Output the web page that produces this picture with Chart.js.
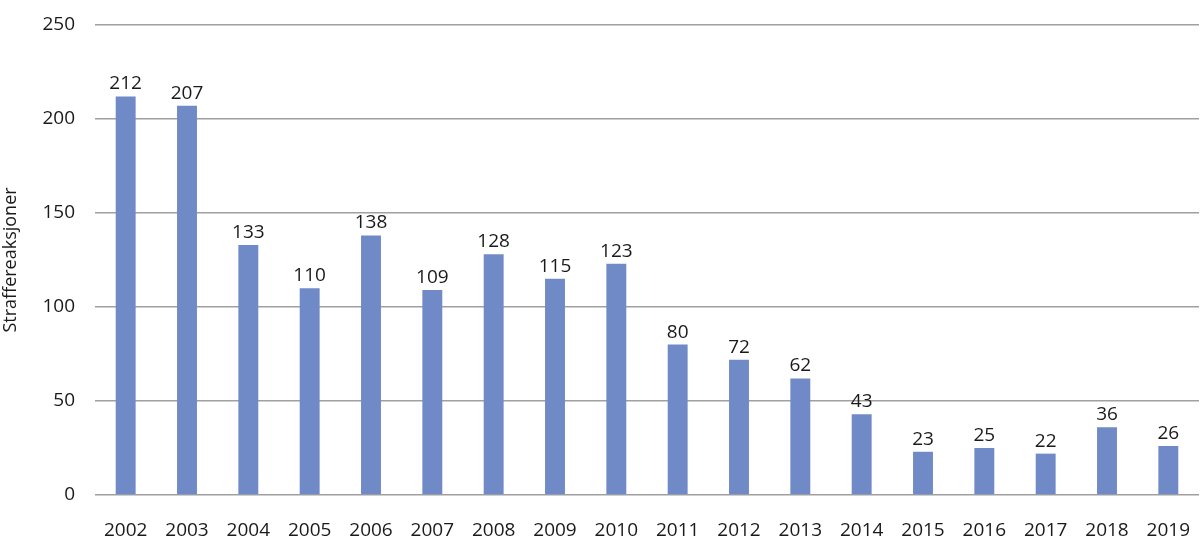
<!DOCTYPE html>
<html lang="no">
<head>
<meta charset="UTF-8">
<title>Straffereaksjoner</title>
<script src="https://cdn.jsdelivr.net/npm/chart.js"></script>
<style>
    body { margin: 0; padding: 0; background: #fff; }
    #wrap { width: 1200px; height: 554px; position: relative; }
</style>
</head>
<body>
<div id="wrap"><canvas id="chart"></canvas></div>
<script>
// data
var years = ['2002','2003','2004','2005','2006','2007','2008','2009','2010',
             '2011','2012','2013','2014','2015','2016','2017','2018','2019'];
var reactions = [212, 207, 133, 110, 138, 109, 128, 115, 123, 80, 72, 62, 43, 23, 25, 22, 36, 26];
var yTicks = [0, 50, 100, 150, 200, 250];

var FONT = '"Open Sans", "Liberation Sans", sans-serif';

// small plugin that writes the value above each bar
var barLabels = {
    id: 'barLabels',
    afterDatasetsDraw: function(chart) {
        var ctx = chart.ctx;
        var meta = chart.getDatasetMeta(0);
        ctx.save();
        ctx.fillStyle = '#1a1a1a';
        ctx.font = '19px ' + FONT;
        ctx.textAlign = 'center';
        ctx.textBaseline = 'bottom';
        meta.data.forEach(function(bar, i) {
            ctx.fillText(reactions[i], bar.x, bar.y - 3);
        });
        ctx.restore();
    }
};

new Chart(document.getElementById('chart'), {
    type: 'bar',
    data: {
        labels: years,
        datasets: [{
            data: reactions,
            backgroundColor: '#6f8ac7',
            barPercentage: 0.65,
            categoryPercentage: 0.5
        }]
    },
    options: {
        responsive: true,
        maintainAspectRatio: false,
        animation: false,
        layout: { padding: { top: 25, right: 1, left: 0, bottom: 0 } },
        plugins: {
            legend: { display: false },
            tooltip: { enabled: false }
        },
        scales: {
            x: {
                grid: { display: false },
                border: { display: false },
                ticks: {
                    color: '#1a1a1a',
                    font: { family: FONT, size: 19 },
                    padding: 16,
                    maxRotation: 0
                },
                afterFit: function(scale) {
                    scale.height = 59;
                    scale.paddingLeft = 0;
                    scale.paddingRight = 0;
                }
            },
            y: {
                min: 0,
                max: 250,
                afterBuildTicks: function(scale) {
                    scale.ticks = yTicks.map(function(v) { return { value: v }; });
                },
                grid: { color: '#a0a0a0', lineWidth: 1.5, drawTicks: false },
                border: { display: false },
                ticks: {
                    color: '#1a1a1a',
                    font: { family: FONT, size: 19 },
                    padding: 20
                },
                title: {
                    display: true,
                    text: 'Straffereaksjoner',
                    color: '#1a1a1a',
                    font: { family: FONT, size: 18 },
                    padding: 0
                },
                afterFit: function(scale) {
                    scale.width = 95;
                    scale.paddingTop = 0;
                    scale.paddingBottom = 0;
                }
            }
        }
    },
    plugins: [barLabels]
});
</script>
</body>
</html>
